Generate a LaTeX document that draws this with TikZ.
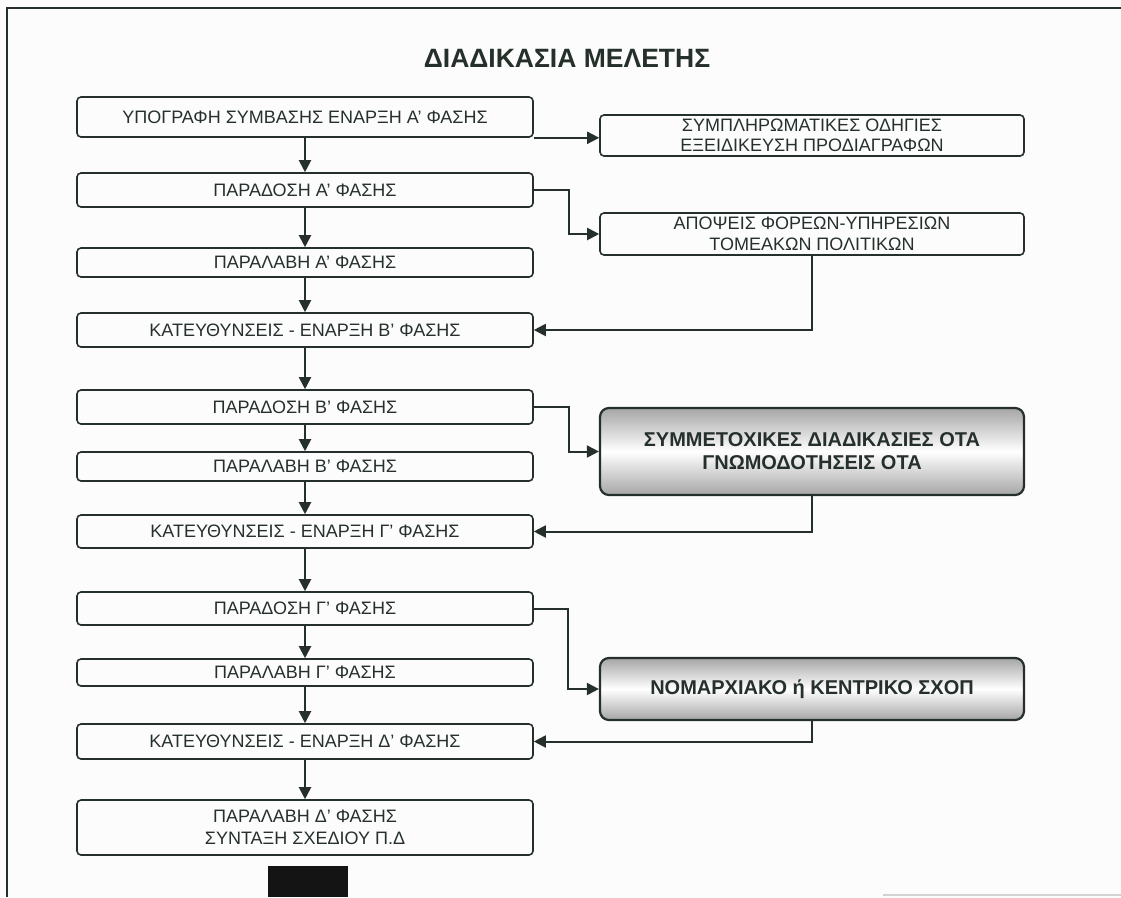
\documentclass[tikz,border=0pt]{standalone}
\usepackage{fontspec}
\setmainfont{Liberation Sans}
\usepackage{xcolor}
\usetikzlibrary{shapes,arrows,arrows.meta,positioning}
\definecolor{ink}{RGB}{38,48,43}
\tikzstyle{arrow} = [line width=2pt,draw=ink,-{Triangle[length=12pt,width=12pt]}]
\tikzstyle{phase} = [draw=ink,line width=1.6pt,rounded corners=4pt,minimum width=456pt,inner sep=0pt,align=center,text=ink,font=\fontsize{18}{21}\selectfont]
\tikzstyle{sidebox} = [phase,minimum width=424pt]
\tikzstyle{grayband} = [draw=ink,line width=2.2pt,rounded corners=9pt,minimum width=424pt,inner sep=0pt,top color=gray!70,bottom color=gray!70,middle color=white,align=center,text=ink,font=\fontsize{20}{23}\selectfont\bfseries]

\begin{document}
\begin{tikzpicture}[x=1pt,y=-1pt]
\useasboundingbox (0,0) rectangle (1121,897);
\fill[white!98!gray] (0,0) rectangle (1121,897);
% frame
\draw[ink,line width=1.6pt] (7,897) -- (7,8) -- (1121,8);
\draw[gray!35,line width=1.5pt] (883,895) -- (1121,895);

\node[text=ink,font=\fontsize{26.5}{30}\selectfont\bfseries] (title) at (567,58) {ΔΙΑΔΙΚΑΣΙΑ ΜΕΛΕΤΗΣ};

% main column
\node[phase,minimum height=40pt] (p1) at (305,117) {ΥΠΟΓΡΑΦΗ ΣΥΜΒΑΣΗΣ ΕΝΑΡΞΗ Α' ΦΑΣΗΣ};
\node[phase,minimum height=34pt] (p2) at (305,190) {ΠΑΡΑΔΟΣΗ Α' ΦΑΣΗΣ};
\node[phase,minimum height=29pt] (p3) at (305,262.5) {ΠΑΡΑΛΑΒΗ Α' ΦΑΣΗΣ};
\node[phase,minimum height=34pt] (p4) at (305,330) {ΚΑΤΕΥΘΥΝΣΕΙΣ - ΕΝΑΡΞΗ Β' ΦΑΣΗΣ};
\node[phase,minimum height=34pt] (p5) at (305,407) {ΠΑΡΑΔΟΣΗ Β' ΦΑΣΗΣ};
\node[phase,minimum height=29pt] (p6) at (305,466.5) {ΠΑΡΑΛΑΒΗ Β' ΦΑΣΗΣ};
\node[phase,minimum height=33pt] (p7) at (305,531.5) {ΚΑΤΕΥΘΥΝΣΕΙΣ - ΕΝΑΡΞΗ Γ' ΦΑΣΗΣ};
\node[phase,minimum height=33pt] (p8) at (305,608.5) {ΠΑΡΑΔΟΣΗ Γ' ΦΑΣΗΣ};
\node[phase,minimum height=27pt] (p9) at (305,672.5) {ΠΑΡΑΛΑΒΗ Γ' ΦΑΣΗΣ};
\node[phase,minimum height=35pt] (p10) at (305,741.5) {ΚΑΤΕΥΘΥΝΣΕΙΣ - ΕΝΑΡΞΗ Δ' ΦΑΣΗΣ};
\node[phase,minimum height=55pt,font=\fontsize{18}{22.5}\selectfont] (p11) at (305,827.5) {ΠΑΡΑΛΑΒΗ Δ' ΦΑΣΗΣ\\ΣΥΝΤΑΞΗ ΣΧΕΔΙΟΥ Π.Δ};

% side column
\node[sidebox,minimum height=41pt,font=\fontsize{18}{20}\selectfont] (odigies) at (812,135.5) {ΣΥΜΠΛΗΡΩΜΑΤΙΚΕΣ ΟΔΗΓΙΕΣ\\ΕΞΕΙΔΙΚΕΥΣΗ ΠΡΟΔΙΑΓΡΑΦΩΝ};
\node[sidebox,minimum height=42pt] (apopseis) at (812,234) {ΑΠΟΨΕΙΣ ΦΟΡΕΩΝ-ΥΠΗΡΕΣΙΩΝ\\ΤΟΜΕΑΚΩΝ ΠΟΛΙΤΙΚΩΝ};
\node[grayband,minimum height=87pt] (ota) at (812,451.5) {ΣΥΜΜΕΤΟΧΙΚΕΣ ΔΙΑΔΙΚΑΣΙΕΣ ΟΤΑ\\ΓΝΩΜΟΔΟΤΗΣΕΙΣ ΟΤΑ};
\node[grayband,minimum height=62pt] (sxop) at (812,689) {ΝΟΜΑΡΧΙΑΚΟ ή ΚΕΝΤΡΙΚΟ ΣΧΟΠ};

\fill[black!92] (268,866) rectangle (348,897);

% flow down
\foreach \a/\b in {p1/p2,p2/p3,p3/p4,p4/p5,p5/p6,p6/p7,p7/p8,p8/p9,p9/p10,p10/p11}
  \draw[arrow] (\a.south) -- (\b.north);

% out to the side and back
\draw[arrow] (p1.south east) -- (p1.south east -| odigies.west);
\draw[arrow] (p2.east) -- ++(35,0) |- (apopseis.west);
\draw[arrow] (apopseis.south) |- (p4.east);
\draw[arrow] (p5.east) -- ++(35,0) |- (ota.west);
\draw[arrow] (ota.south) |- (p7.east);
\draw[arrow] (p8.east) -- ++(34,0) |- (sxop.west);
\draw[arrow] (sxop.south) |- (p10.east);
\end{tikzpicture}
\end{document}
